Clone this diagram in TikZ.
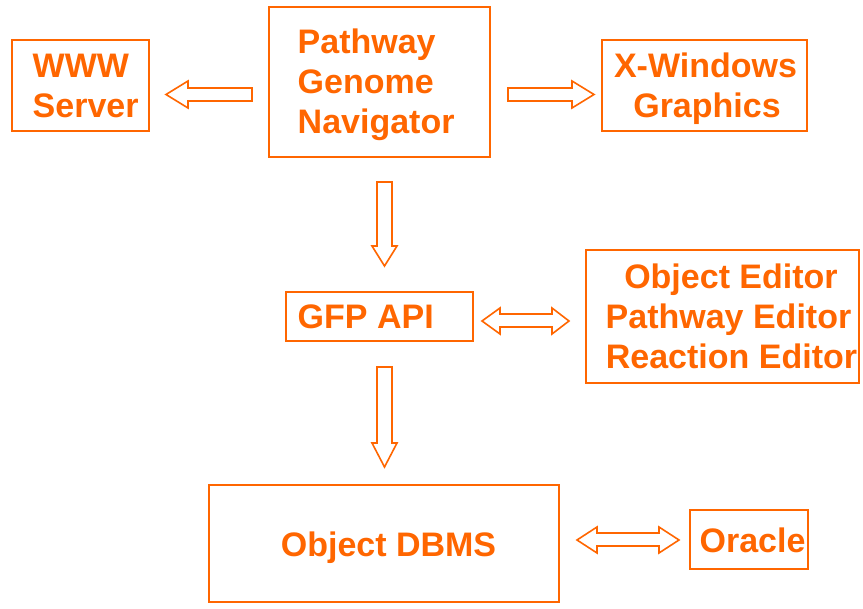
\documentclass[tikz,border=0pt]{standalone}
\usepackage{fontspec}
\setmainfont{Liberation Sans}
\definecolor{org}{RGB}{255,102,0}
\begin{document}
\begin{tikzpicture}[x=1pt,y=-1pt,
  box/.style={draw=org,line width=1.8pt,minimum width=#1,inner sep=0pt},
  txt/.style={text=org,font=\fontsize{34}{40}\selectfont\bfseries,inner sep=0pt},
  blk/.style={draw=org,line width=1.6pt,fill=white,line join=miter}]
\fill[white] (0,0) rectangle (863,609);
\useasboundingbox (0,0) rectangle (863,609);
% boxes
\node[box=137pt,minimum height=91pt] (www) at (80.5,85.5) {};
\node[box=221pt,minimum height=150pt] (pgn) at (379.5,82) {};
\node[box=205pt,minimum height=91pt] (xw) at (704.5,85.5) {};
\node[box=187pt,minimum height=49pt] (gfp) at (379.5,316.5) {};
\node[box=273pt,minimum height=133pt] (ed) at (722.5,316.5) {};
\node[box=350pt,minimum height=117pt] (db) at (384,543.5) {};
\node[box=118pt,minimum height=59pt] (orc) at (749,539.5) {};
% texts
\node[txt,anchor=base west] (t1) at (32.5,78) {WWW};
\node[txt,anchor=base west] (t2) at (32.5,118) {Server};
\node[txt,anchor=base west] (t3) at (297.5,54) {Pathway};
\node[txt,anchor=base west] (t4) at (297.5,94) {Genome};
\node[txt,anchor=base west] (t5) at (297.5,134) {Navigator};
\node[txt,anchor=base] (t6) at (705.5,78) {X-Windows};
\node[txt,anchor=base] (t7) at (707,118) {Graphics};
\node[txt,anchor=base west] (t8) at (297.5,329) {GFP API};
\node[txt,anchor=base] (t9) at (731,289) {Object Editor};
\node[txt,anchor=base] (t10) at (728.5,329) {Pathway Editor};
\node[txt,anchor=base] (t11) at (731.5,369) {Reaction Editor};
\node[txt,anchor=base] (t12) at (388.5,557) {Object DBMS};
\node[txt,anchor=base] (t13) at (752.5,553) {Oracle};
% block arrows
% left arrow to WWW
\draw[blk] (252,88) -- (188,88) -- (188,81) -- (166,94.5) -- (188,108) -- (188,101) -- (252,101) -- cycle;
% right arrow to X-Windows
\draw[blk] (508,88) -- (572,88) -- (572,81) -- (594,94.5) -- (572,108) -- (572,101) -- (508,101) -- cycle;
% down arrow 1
\draw[blk] (377,182) -- (377,246) -- (372,246) -- (384.5,266) -- (397,246) -- (392,246) -- (392,182) -- cycle;
% down arrow 2
\draw[blk] (377,367) -- (377,443) -- (372,443) -- (384.5,467) -- (397,443) -- (392,443) -- (392,367) -- cycle;
% double arrow GFP <-> editors
\draw[blk] (482,321) -- (500,308) -- (500,314) -- (552,314) -- (552,308) -- (569,321) -- (552,334) -- (552,327) -- (500,327) -- (500,334) -- cycle;
% double arrow DBMS <-> Oracle
\draw[blk] (577,540) -- (597,527) -- (597,533) -- (659,533) -- (659,527) -- (679,540) -- (659,553) -- (659,546) -- (597,546) -- (597,553) -- cycle;
\end{tikzpicture}
\end{document}
